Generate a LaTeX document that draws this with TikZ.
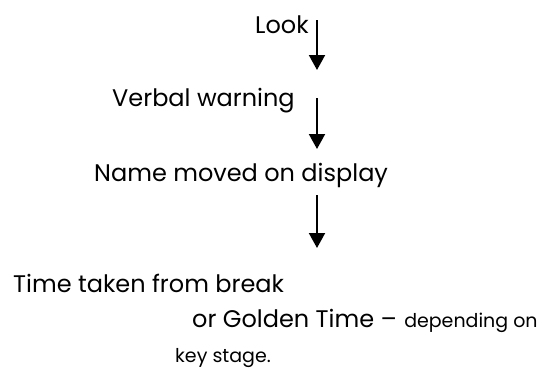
\documentclass[tikz,border=0pt]{standalone}
\usepackage{fontspec}
\setmainfont{Poppins}
\usetikzlibrary{arrows.meta}
\begin{document}
\begin{tikzpicture}[x=1pt,y=-1pt,
  big/.style={inner sep=0pt,anchor=base west,font=\fontsize{24}{28}\selectfont},
  small/.style={inner sep=0pt,anchor=base west,font=\fontsize{19}{22}\selectfont},
  flow/.style={line width=2pt,-{Triangle[length=15pt,width=16pt]}}]
\useasboundingbox (0,0) rectangle (542,368);
\node[big] (look) at (255,33) {Look};
\node[big] (verbal) at (112,106) {Verbal warning};
\node[big] (name) at (94,181) {Name moved on display};
\node[big] (time) at (13,292) {Time taken from break};
\node[big] (golden) at (192,327) {or Golden Time –};
\node[small] (dep) at (golden.base east) [xshift=7pt] {depending on};
\node[small] (key) at (175,362) {key stage.};
\coordinate (a1s) at (317,20);
\coordinate (a1e) at (317,70);
\coordinate (a2s) at (317,98);
\coordinate (a2e) at (317,149);
\coordinate (a3s) at (317,195);
\coordinate (a3e) at (317,248);
\draw[flow] (a1s) -- (a1e);
\draw[flow] (a2s) -- (a2e);
\draw[flow] (a3s) -- (a3e);
\end{tikzpicture}
\end{document}
